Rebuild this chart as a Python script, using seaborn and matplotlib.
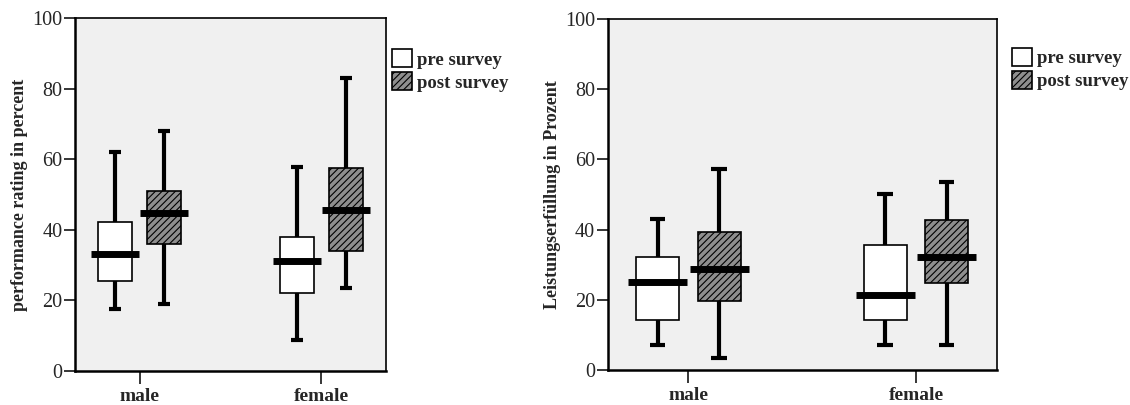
import numpy as np
import pandas as pd
import seaborn as sns
import matplotlib.pyplot as plt
from matplotlib.patches import Patch

# five-number summaries: min, q1, median, q3, max
genders = ["male", "female"]
surveys = ["pre survey", "post survey"]

perf_male_pre = [17.6, 25.4, 33.2, 42.1, 62.1]
perf_male_post = [19.0, 36.0, 44.6, 50.9, 68.1]
perf_female_pre = [8.8, 22.1, 31.0, 37.8, 57.8]
perf_female_post = [23.4, 33.9, 45.7, 57.4, 83.0]

leist_male_pre = [7.1, 14.2, 25.1, 32.3, 43.0]
leist_male_post = [3.5, 19.7, 28.7, 39.4, 57.3]
leist_female_pre = [7.1, 14.2, 21.4, 35.6, 50.1]
leist_female_post = [7.1, 24.8, 32.2, 42.8, 53.6]

yticks = [0, 20, 40, 60, 80, 100]


def long_df(mp, mpo, fp, fpo):
    rows = []
    for g, s, vals in [("male", "pre survey", mp), ("male", "post survey", mpo),
                       ("female", "pre survey", fp), ("female", "post survey", fpo)]:
        for v in vals:
            rows.append({"gender": g, "survey": s, "value": v})
    return pd.DataFrame(rows)


df1 = long_df(perf_male_pre, perf_male_post, perf_female_pre, perf_female_post)
df2 = long_df(leist_male_pre, leist_male_post, leist_female_pre, leist_female_post)

sns.set_style("ticks")
plt.rcParams["font.family"] = ["Liberation Serif", "DejaVu Serif"]
plt.rcParams["hatch.linewidth"] = 0.8
plt.rcParams["hatch.color"] = "black"

fig = plt.figure(figsize=(11.3, 4.05), dpi=100)
ax1 = fig.add_axes([0.0664, 0.0847, 0.2752, 0.8704])
ax2 = fig.add_axes([0.5378, 0.0864, 0.3442, 0.8667])

post_col = "#8e8e8e"


def draw(ax, df, ylabel, leg_x, leg_y):
    ax.set_facecolor("#f0f0f0")
    sns.boxplot(data=df, x="gender", y="value", hue="survey", order=genders,
                hue_order=surveys, palette=["white", post_col], width=0.54,
                gap=0.3, whis=(0, 100), showfliers=False, legend=False, ax=ax,
                linecolor="black", linewidth=1.2,
                medianprops=dict(linewidth=5, color="black", solid_capstyle="butt"),
                whiskerprops=dict(linewidth=3.0, color="black"),
                capprops=dict(linewidth=3.0, color="black", solid_capstyle="butt"))
    # hatch the post-survey boxes
    for p in ax.patches:
        fc = p.get_facecolor()
        if fc[0] < 0.9:
            p.set_hatch("/////")
            p.set_edgecolor("black")
    # median bars extend past the boxes, caps are short
    for ln in ax.lines:
        xd = np.asarray(ln.get_xdata(), dtype=float)
        yd = np.asarray(ln.get_ydata(), dtype=float)
        if len(xd) == 2 and yd[0] == yd[1] and ln.get_linewidth() > 4:
            c = xd.mean()
            half = (xd[1] - xd[0]) / 2
            ln.set_xdata([c - half * 1.38, c + half * 1.38])
        elif len(xd) == 2 and yd[0] == yd[1]:
            c = xd.mean()
            half = (xd[1] - xd[0]) / 2
            ln.set_xdata([c - half * 0.72, c + half * 0.72])
    ax.set_xlim(-0.355, 1.355)
    ax.set_ylim(0, 100)
    ax.set_yticks(yticks)
    ax.set_xlabel("")
    ax.set_ylabel(ylabel, fontsize=13, fontweight="bold", labelpad=3)
    ax.tick_params(axis="y", labelsize=14.5, length=8, width=1.3, pad=1)
    ax.tick_params(axis="x", labelsize=14, length=9, width=1.3, pad=3.5)
    for t in ax.get_xticklabels():
        t.set_fontweight("bold")
    for s in ax.spines.values():
        s.set_visible(True)
        s.set_color("black")
        s.set_linewidth(1.2)
    ax.spines["left"].set_linewidth(1.8)
    ax.spines["bottom"].set_linewidth(1.8)
    handles = [Patch(facecolor="white", edgecolor="black", linewidth=1.2, label="pre survey"),
               Patch(facecolor=post_col, edgecolor="black", linewidth=1.2, hatch="/////",
                     label="post survey")]
    ax.legend(handles=handles, loc="upper left", bbox_to_anchor=(leg_x, leg_y),
              frameon=False, prop=dict(size=13.5, weight="bold"),
              handlelength=1.1, handleheight=1.1, handletextpad=0.25,
              labelspacing=0.2, borderaxespad=0, borderpad=0)


draw(ax1, df1, "performance rating in percent", 1.018, 0.912)
draw(ax2, df2, "Leistungserfüllung in Prozent", 1.039, 0.918)

fig.savefig("out.png", dpi=100)
